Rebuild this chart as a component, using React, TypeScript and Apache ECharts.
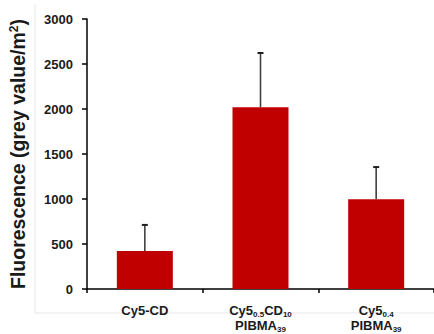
import React, { useEffect, useRef } from "react";
import * as echarts from "echarts";

const categories = ["Cy5-CD", "Cy5(0.5)CD(10) PIBMA(39)", "Cy5(0.4) PIBMA(39)"];
const categoryLabels = [
  "Cy5-CD",
  "Cy5{s|0.5}CD{s|10}\nPIBMA{s|39}",
  "Cy5{s|0.4}\nPIBMA{s|39}",
];
const meanValues = [422, 2020, 997];
const errorValues = [290, 602, 358];
const yTicks = { min: 0, max: 3000, interval: 500 };

export default function App() {
  const ref = useRef<HTMLDivElement>(null);
  useEffect(() => {
    if (!ref.current) return;
    const chart = echarts.init(ref.current, null, { renderer: "svg" });
    const font = "'Liberation Sans', Arial, sans-serif";
    const errData = meanValues.map((m, i) => [i, m, m + errorValues[i]]);
    chart.setOption({
      animation: false,
      backgroundColor: "#ffffff",
      grid: { left: 87, right: 0, top: 19, bottom: 45, containLabel: false },
      graphic: [
        {
          type: "line",
          shape: { x1: 35, y1: 4, x2: 35, y2: 313 },
          style: { stroke: "#e8e8e8", lineWidth: 1 },
          silent: true,
        },
        {
          type: "line",
          shape: { x1: 35, y1: 313, x2: 434, y2: 313 },
          style: { stroke: "#e8e8e8", lineWidth: 1 },
          silent: true,
        },
      ],
      xAxis: {
        type: "category",
        data: categories,
        axisLine: { lineStyle: { color: "#000", width: 1.5 } },
        axisTick: { show: true, length: 4, lineStyle: { color: "#000", width: 1.5 } },
        axisLabel: {
          interval: 0,
          margin: 14,
          color: "#1a1a1a",
          fontFamily: font,
          fontWeight: "bold",
          fontSize: 13,
          lineHeight: 15,
          formatter: (_v: string, i: number) => categoryLabels[i],
          rich: {
            s: {
              fontFamily: font,
              fontWeight: "bold",
              fontSize: 8,
              color: "#1a1a1a",
              verticalAlign: "bottom",
              lineHeight: 15,
              padding: [3, 0, 0, 0],
            },
          },
        },
      },
      yAxis: {
        type: "value",
        min: yTicks.min,
        max: yTicks.max,
        interval: yTicks.interval,
        name: "Fluorescence (grey value/m{sup|2})",
        nameLocation: "middle",
        nameGap: 59,
        nameTextStyle: {
          fontFamily: font,
          fontWeight: "bold",
          fontSize: 19.5,
          color: "#1a1a1a",
          rich: {
            sup: {
              fontFamily: font,
              fontWeight: "bold",
              fontSize: 12,
              color: "#1a1a1a",
              verticalAlign: "top",
              padding: [0, 0, 8, 0],
            },
          },
        },
        splitLine: { show: false },
        axisLine: { show: true, lineStyle: { color: "#000", width: 1.5 } },
        axisTick: { show: true, length: 5, lineStyle: { color: "#000", width: 1.5 } },
        axisLabel: {
          margin: 14,
          color: "#1a1a1a",
          fontFamily: font,
          fontWeight: "bold",
          fontSize: 13,
          formatter: (v: number) => String(v),
        },
      },
      series: [
        {
          type: "bar",
          data: meanValues,
          barWidth: 56,
          itemStyle: { color: "#C00000" },
          z: 2,
        },
        {
          type: "custom",
          data: errData,
          z: 3,
          renderItem: (_params: any, api: any) => {
            const idx = api.value(0);
            const lo = api.coord([idx, api.value(1)]);
            const hi = api.coord([idx, api.value(2)]);
            const cap = 3;
            const style = { stroke: "#404040", lineWidth: 1.6 };
            return {
              type: "group",
              children: [
                { type: "line", shape: { x1: lo[0], y1: lo[1], x2: hi[0], y2: hi[1] }, style },
                { type: "line", shape: { x1: hi[0] - cap, y1: hi[1], x2: hi[0] + cap, y2: hi[1] }, style: { stroke: "#202020", lineWidth: 2 } },
              ],
            };
          },
        },
      ],
    });
    return () => chart.dispose();
  }, []);
  return (
    <div
      ref={ref}
      style={{ position: "fixed", left: 0, top: 0, width: 434, height: 334 }}
    />
  );
}
